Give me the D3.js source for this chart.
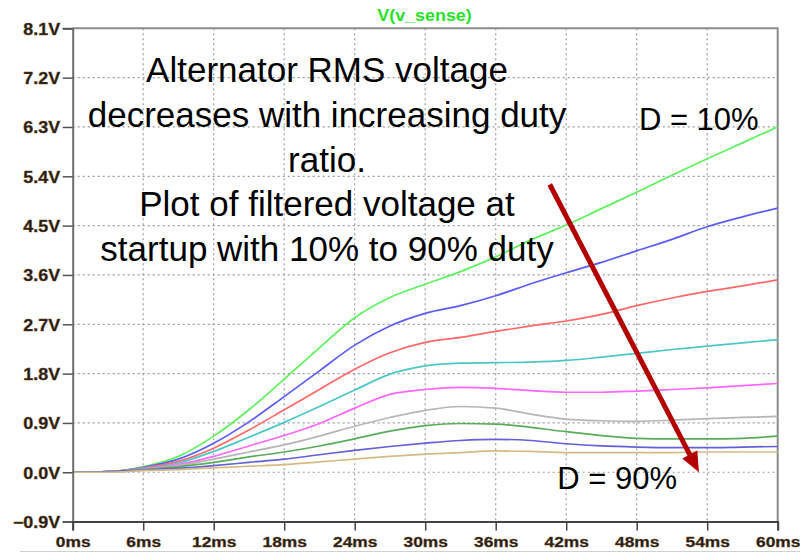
<!DOCTYPE html>
<html>
<head>
<meta charset="utf-8">
<script src="https://cdn.jsdelivr.net/npm/d3@7/dist/d3.min.js"></script>
<style>
  html, body { margin: 0; padding: 0; background: #fff; }
  svg { display: block; }
</style>
</head>
<body>
<svg id="chart" width="800" height="553"></svg>
<script>
// Simulation time samples (ms)
const timeMs = [0, 3, 6, 9, 12, 15, 18, 21, 24, 27, 30, 33, 36, 39, 42, 45, 48, 51, 54, 57, 60];

// Filtered sense voltage (V) for each PWM duty ratio
const d10 = [0, 0.01, 0.10, 0.29, 0.66, 1.14, 1.70, 2.27, 2.82, 3.19, 3.43, 3.66, 3.93, 4.24, 4.51, 4.81, 5.11, 5.42, 5.72, 6.01, 6.30];
const d20 = [0, 0.01, 0.09, 0.24, 0.53, 0.92, 1.38, 1.85, 2.32, 2.67, 2.90, 3.04, 3.22, 3.44, 3.64, 3.83, 4.04, 4.25, 4.48, 4.66, 4.82];
const d30 = [0, 0.01, 0.08, 0.20, 0.44, 0.77, 1.14, 1.51, 1.88, 2.18, 2.37, 2.46, 2.57, 2.67, 2.76, 2.88, 3.04, 3.18, 3.30, 3.40, 3.51];
const d40 = [0, 0.01, 0.07, 0.17, 0.38, 0.64, 0.91, 1.20, 1.50, 1.79, 1.94, 1.99, 2.00, 2.01, 2.04, 2.10, 2.17, 2.24, 2.30, 2.36, 2.42];
const d50 = [0, 0.01, 0.06, 0.14, 0.29, 0.48, 0.67, 0.89, 1.17, 1.42, 1.51, 1.55, 1.53, 1.49, 1.46, 1.46, 1.48, 1.51, 1.54, 1.58, 1.62];
const d60 = [0, 0.01, 0.05, 0.12, 0.24, 0.37, 0.50, 0.66, 0.84, 1.00, 1.13, 1.20, 1.17, 1.06, 0.97, 0.94, 0.93, 0.95, 0.98, 1.00, 1.02];
const d70 = [0, 0.01, 0.05, 0.10, 0.18, 0.28, 0.37, 0.48, 0.61, 0.75, 0.85, 0.89, 0.88, 0.82, 0.74, 0.67, 0.62, 0.61, 0.61, 0.62, 0.66];
const d80 = [0, 0.01, 0.04, 0.07, 0.12, 0.18, 0.24, 0.32, 0.40, 0.47, 0.53, 0.58, 0.60, 0.58, 0.52, 0.48, 0.46, 0.45, 0.45, 0.46, 0.47];
const d90 = [0, 0.00, 0.03, 0.05, 0.08, 0.11, 0.14, 0.19, 0.24, 0.29, 0.33, 0.36, 0.39, 0.38, 0.36, 0.36, 0.36, 0.36, 0.37, 0.37, 0.37];

const seriesValues = [d10, d20, d30, d40, d50, d60, d70, d80, d90];
const traceColors = ["#5ef25e", "#5c5cf6", "#ff6868", "#4cc6c6", "#ff66ff", "#b6b6b6", "#5aac5a", "#6262d6", "#d6ba84"];

// Axis ticks
const xTicks = [0, 6, 12, 18, 24, 30, 36, 42, 48, 54, 60];
const yTicks = [-0.9, 0.0, 0.9, 1.8, 2.7, 3.6, 4.5, 5.4, 6.3, 7.2, 8.1];

const traceName = "V(v_sense)";
const noteLines = [
  "Alternator RMS voltage",
  "decreases with increasing duty",
  "ratio.",
  "Plot of filtered voltage at",
  "startup with 10% to 90% duty"
];
const labelTop = "D = 10%";
const labelBottom = "D = 90%";
// Arrow from low-duty to high-duty end, in data units [ms, V]
const arrowFrom = [40.6, 5.25];
const arrowTo = [53.3, 0.0];

const svg = d3.select("#chart");
const plotLeft = 72.7, plotRight = 777.7, plotTop = 28.3, plotBottom = 521.6;

const x = d3.scaleLinear().domain([0, 60]).range([plotLeft, plotRight]);
const y = d3.scaleLinear().domain([-0.9, 8.1]).range([plotBottom, plotTop]);

const labelFont = "'Liberation Sans', Arial, sans-serif";
const stretch = 1.12;

// Dotted grid
const grid = svg.append("g").attr("stroke", "#9c9c9c").attr("stroke-width", 1.2)
  .attr("stroke-dasharray", "2,3");
grid.selectAll("line.v").data(xTicks.slice(1, -1)).join("line").attr("class", "v")
  .attr("x1", d => x(d)).attr("x2", d => x(d)).attr("y1", plotTop).attr("y2", plotBottom);
grid.selectAll("line.h").data(yTicks.slice(1, -1)).join("line").attr("class", "h")
  .attr("x1", plotLeft).attr("x2", plotRight).attr("y1", d => y(d)).attr("y2", d => y(d));

// Plot frame (top and right edges)
svg.append("path")
  .attr("d", `M${plotLeft},${plotTop}H${plotRight}V${plotBottom}`)
  .attr("fill", "none").attr("stroke", "#8c8c8c").attr("stroke-width", 2);

// Traces
const line = d3.line().x((d, i) => x(timeMs[i])).y(d => y(d)).curve(d3.curveMonotoneX);
svg.append("g").selectAll("path").data(seriesValues).join("path")
  .attr("d", d => line(d))
  .attr("fill", "none")
  .attr("stroke", (d, i) => traceColors[i])
  .attr("stroke-width", 1.7);

// Axes
const yAxis = d3.axisLeft(y).tickValues(yTicks).tickSize(10).tickPadding(3)
  .tickFormat(d => d3.format(".1f")(d) + "V");
const gy = svg.append("g").attr("transform", `translate(${plotLeft},0)`).call(yAxis);
gy.select(".domain").attr("stroke", "#6e6e6e").attr("stroke-width", 2);
gy.selectAll(".tick line").attr("stroke", "#555").attr("stroke-width", 1.5);
gy.selectAll(".tick text")
  .attr("font-family", labelFont).attr("font-weight", "bold").attr("font-size", 16)
  .attr("fill", "#241c14").attr("stroke", "#6a4420").attr("stroke-width", 0.4)
  .attr("x", -12.5 / stretch).attr("dy", "0.36em")
  .attr("transform", `scale(${stretch},1)`);

const xAxis = d3.axisBottom(x).tickValues(xTicks).tickSize(9)
  .tickFormat(d => d + "ms");
const gx = svg.append("g").attr("transform", `translate(0,${plotBottom})`).call(xAxis);
gx.select(".domain").attr("stroke", "#444").attr("stroke-width", 2);
gx.selectAll(".tick line").attr("stroke", "#444").attr("stroke-width", 1.5);
gx.selectAll(".tick text")
  .attr("font-family", labelFont).attr("font-weight", "bold").attr("font-size", 15.5)
  .attr("fill", "#241c14").attr("stroke", "#6a4420").attr("stroke-width", 0.4)
  .attr("y", 25.5).attr("dy", 0)
  .attr("transform", `scale(${stretch},1)`)
  .attr("x", 0);

// Trace name above the plot
svg.append("text")
  .attr("x", 424.5 / stretch).attr("y", 21)
  .attr("transform", `scale(${stretch},1)`)
  .attr("text-anchor", "middle")
  .attr("font-family", labelFont).attr("font-weight", "bold").attr("font-size", 16)
  .attr("fill", "#28e028")
  .text(traceName);

// Thin rule along the bottom edge
svg.append("line").attr("x1", 20).attr("x2", 800).attr("y1", 551.5).attr("y2", 551.5)
  .attr("stroke", "#d0d0d0").attr("stroke-width", 1);

// Annotation text block
const note = svg.append("g")
  .attr("font-family", labelFont)
  .attr("font-size", 35).attr("fill", "#000").attr("text-anchor", "middle");
note.selectAll("text").data(noteLines).join("text")
  .attr("x", 327).attr("y", (d, i) => 82 + i * 44.8)
  .text(d => d);

svg.append("text").attr("x", 698.8).attr("y", 130)
  .attr("text-anchor", "middle")
  .attr("font-family", labelFont).attr("font-size", 31)
  .attr("fill", "#000").text(labelTop);
svg.append("text").attr("x", 617.2).attr("y", 488.5)
  .attr("text-anchor", "middle")
  .attr("font-family", labelFont).attr("font-size", 31)
  .attr("fill", "#000").text(labelBottom);

// Dark red arrow
const ax0 = x(arrowFrom[0]), ay0 = y(arrowFrom[1]);
const ax1 = x(arrowTo[0]), ay1 = y(arrowTo[1]);
const ang = Math.atan2(ay1 - ay0, ax1 - ax0);
const headLen = 20, headHalf = 8.5;
const bx = ax1 - headLen * Math.cos(ang), by = ay1 - headLen * Math.sin(ang);
svg.append("line")
  .attr("x1", ax0).attr("y1", ay0).attr("x2", bx + 2 * Math.cos(ang)).attr("y2", by + 2 * Math.sin(ang))
  .attr("stroke", "#b20000").attr("stroke-width", 5);
const px = -Math.sin(ang), py = Math.cos(ang);
svg.append("path")
  .attr("d", `M${ax1},${ay1}L${bx + headHalf * px},${by + headHalf * py}L${bx - headHalf * px},${by - headHalf * py}Z`)
  .attr("fill", "#b20000");
</script>
</body>
</html>
